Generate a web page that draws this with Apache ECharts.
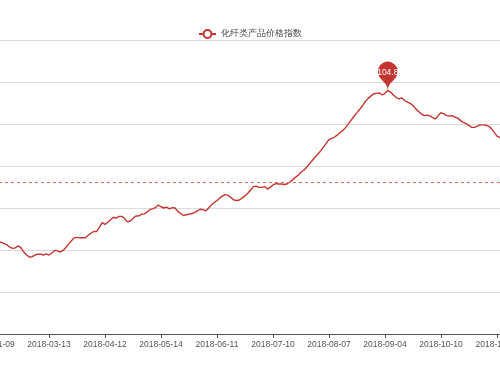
<!DOCTYPE html>
<html>
<head>
<meta charset="utf-8">
<script src="https://cdn.jsdelivr.net/npm/echarts@6/dist/echarts.min.js"></script>
<style>
html,body{margin:0;padding:0;background:#fff;overflow:hidden;width:500px;height:375px;position:relative;}
#chart{width:600px;height:375px;position:absolute;left:-50px;top:0;}
</style>
</head>
<body>
<div id="chart"></div>
<script>
var seriesName = '化纤类产品价格指数';

var dates = [
'2018-01-09','2018-01-19','2018-01-26','2018-02-02','2018-02-12','2018-02-13','2018-02-14','2018-02-22','2018-02-23','2018-02-26',
'2018-02-27','2018-02-28','2018-03-01','2018-03-02','2018-03-05','2018-03-06','2018-03-07','2018-03-08','2018-03-09','2018-03-12',
'2018-03-13','2018-03-14','2018-03-15','2018-03-16','2018-03-19','2018-03-20','2018-03-21','2018-03-22','2018-03-23','2018-03-26',
'2018-03-27','2018-03-28','2018-03-29','2018-03-30','2018-04-02','2018-04-03','2018-04-04','2018-04-09','2018-04-10','2018-04-11',
'2018-04-12','2018-04-13','2018-04-16','2018-04-17','2018-04-18','2018-04-19','2018-04-20','2018-04-23','2018-04-24','2018-04-25',
'2018-04-26','2018-04-27','2018-05-02','2018-05-03','2018-05-04','2018-05-07','2018-05-08','2018-05-09','2018-05-10','2018-05-11',
'2018-05-14','2018-05-15','2018-05-16','2018-05-17','2018-05-18','2018-05-21','2018-05-22','2018-05-23','2018-05-24','2018-05-25',
'2018-05-28','2018-05-29','2018-05-30','2018-05-31','2018-06-01','2018-06-04','2018-06-05','2018-06-06','2018-06-07','2018-06-08',
'2018-06-11','2018-06-12','2018-06-13','2018-06-14','2018-06-15','2018-06-19','2018-06-20','2018-06-21','2018-06-22','2018-06-25',
'2018-06-26','2018-06-27','2018-06-28','2018-06-29','2018-07-02','2018-07-03','2018-07-04','2018-07-05','2018-07-06','2018-07-09',
'2018-07-10','2018-07-11','2018-07-12','2018-07-13','2018-07-16','2018-07-17','2018-07-18','2018-07-19','2018-07-20','2018-07-23',
'2018-07-24','2018-07-25','2018-07-26','2018-07-27','2018-07-30','2018-07-31','2018-08-01','2018-08-02','2018-08-03','2018-08-06',
'2018-08-07','2018-08-08','2018-08-09','2018-08-10','2018-08-13','2018-08-14','2018-08-15','2018-08-16','2018-08-17','2018-08-20',
'2018-08-21','2018-08-22','2018-08-23','2018-08-24','2018-08-27','2018-08-28','2018-08-29','2018-08-30','2018-08-31','2018-09-03',
'2018-09-04','2018-09-05','2018-09-06','2018-09-07','2018-09-10','2018-09-11','2018-09-12','2018-09-13','2018-09-14','2018-09-17',
'2018-09-18','2018-09-19','2018-09-20','2018-09-21','2018-09-25','2018-09-26','2018-09-27','2018-09-28','2018-10-08','2018-10-09',
'2018-10-10','2018-10-11','2018-10-12','2018-10-15','2018-10-16','2018-10-17','2018-10-18','2018-10-19','2018-10-22','2018-10-23',
'2018-10-24','2018-10-25','2018-10-26','2018-10-29','2018-10-30','2018-10-31','2018-11-01','2018-11-02','2018-11-05','2018-11-06',
'2018-11-07','2018-11-08','2018-11-09'
];

var indexValues = [
101.23,101.20,101.19,101.18,101.15,101.12,101.07,101.04,101.05,101.10,
101.05,100.95,100.88,100.83,100.84,100.88,100.90,100.90,100.88,100.91,
100.88,100.93,100.99,100.98,100.95,100.99,101.06,101.14,101.22,101.29,
101.30,101.29,101.29,101.29,101.35,101.40,101.44,101.44,101.54,101.65,
101.61,101.66,101.72,101.78,101.76,101.80,101.80,101.75,101.67,101.69,
101.75,101.81,101.81,101.85,101.86,101.90,101.96,101.98,102.01,102.07,
102.03,102.00,102.02,101.98,102.01,102.00,101.92,101.87,101.82,101.84,
101.85,101.87,101.89,101.93,101.97,101.96,101.93,102.00,102.07,102.13,
102.18,102.24,102.29,102.32,102.30,102.25,102.19,102.18,102.19,102.24,
102.29,102.35,102.43,102.51,102.52,102.49,102.49,102.51,102.45,102.49,
102.55,102.58,102.57,102.57,102.56,102.57,102.62,102.67,102.73,102.78,
102.85,102.90,102.97,103.05,103.13,103.21,103.28,103.36,103.45,103.54,
103.63,103.66,103.69,103.74,103.80,103.85,103.92,104.01,104.10,104.19,
104.27,104.35,104.44,104.54,104.61,104.67,104.72,104.73,104.74,104.69,
104.73,104.80,104.76,104.69,104.63,104.60,104.62,104.56,104.52,104.49,
104.44,104.36,104.30,104.24,104.20,104.21,104.20,104.15,104.12,104.20,
104.27,104.24,104.20,104.19,104.20,104.16,104.14,104.08,104.04,104.01,
103.96,103.92,103.92,103.95,103.98,103.98,103.97,103.95,103.89,103.80,
103.71,103.68,103.67
];

// average level
var averageLevel = [102.62];

var yMin = 99, yMax = 106, yStep = 1;
var labelEvery = 20;
var lineColor = '#c23531';

var chart = echarts.init(document.getElementById('chart'), null, {renderer: 'canvas'});
chart.setOption({
  animation: false,
  color: [lineColor],
  legend: {
    data: [seriesName],
    top: 24,
    left: 'center',
    itemWidth: 17,
    itemHeight: 10,
    itemGap: 8,
    textStyle: {fontSize: 8.5, color: '#444'}
  },
  grid: {left: 43, right: 47.4, top: 40, bottom: 41, containLabel: false, outerBoundsMode: 'none'},
  xAxis: {
    type: 'category',
    boundaryGap: false,
    data: dates,
    axisLine: {lineStyle: {color: '#555'}},
    axisTick: {interval: labelEvery - 1, length: 4, lineStyle: {color: '#555'}},
    axisLabel: {interval: labelEvery - 1, fontSize: 8.5, color: '#555', margin: 6}
  },
  yAxis: {
    type: 'value',
    min: yMin, max: yMax, interval: yStep,
    axisLine: {show: false},
    axisTick: {show: false},
    axisLabel: {fontSize: 8.5, color: '#555'},
    splitLine: {lineStyle: {color: '#dcdcdc', width: 1}}
  },
  series: [{
    name: seriesName,
    type: 'line',
    data: indexValues,
    symbol: 'emptyCircle',
    showSymbol: false,
    lineStyle: {width: 1.4, color: lineColor},
    itemStyle: {color: lineColor},
    markPoint: {
      symbol: 'pin',
      symbolSize: 33,
      data: [{type: 'max', name: '最大值'}],
      itemStyle: {color: lineColor},
      label: {fontSize: 8.5, color: '#fff'}
    },
    markLine: {
      symbol: ['none', 'none'],
      silent: true,
      label: {show: false},
      itemStyle: {color: lineColor},
      lineStyle: {type: [3, 3], width: 1, color: '#d66a66'},
      data: [{yAxis: averageLevel[0], name: '平均值', itemStyle: {color: lineColor}, lineStyle: {type: [3, 3], width: 1, color: '#d66a66'}}]
    }
  }]
});
</script>
</body>
</html>
